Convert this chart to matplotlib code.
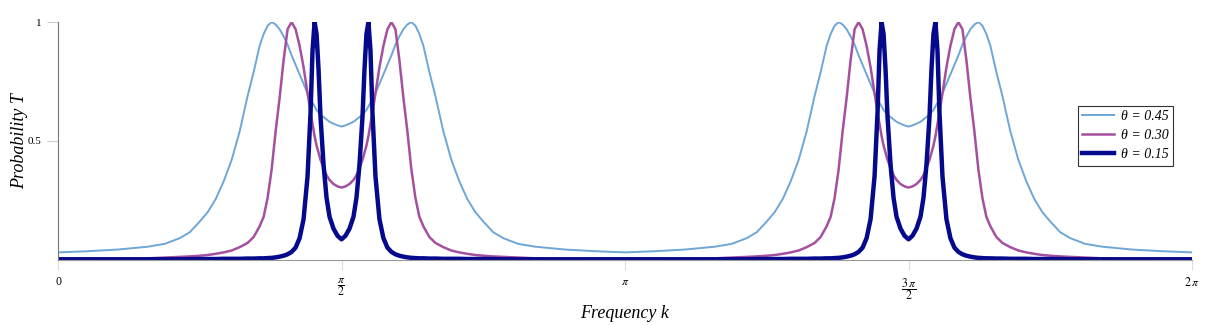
#!/usr/bin/env python
# -*- coding: utf-8 -*-

"""
Transmission probability T over frequency k for three values of theta
"""

import numpy as np
import matplotlib
matplotlib.use('Agg')
import matplotlib.pyplot as plt

# frequency grid, in units of pi
k_over_pi = [
    0.0000, 0.0528, 0.1056, 0.1585, 0.1884, 0.2148, 0.2324, 0.2500, 0.2641, 0.2782,
    0.2923, 0.3063, 0.3204, 0.3345, 0.3451, 0.3556, 0.3627, 0.3697, 0.3768, 0.3838,
    0.3908, 0.3979, 0.4049, 0.4120, 0.4190, 0.4261, 0.4331, 0.4401, 0.4454, 0.4489,
    0.4525, 0.4560, 0.4595, 0.4630, 0.4683, 0.4736, 0.4789, 0.4859, 0.4930, 0.5000,
    0.5070, 0.5141, 0.5211, 0.5264, 0.5317, 0.5370, 0.5405, 0.5440, 0.5475, 0.5511,
    0.5546, 0.5599, 0.5669, 0.5739, 0.5810, 0.5880, 0.5951, 0.6021, 0.6092, 0.6162,
    0.6232, 0.6303, 0.6373, 0.6444, 0.6549, 0.6655, 0.6796, 0.6937, 0.7077, 0.7218,
    0.7359, 0.7500, 0.7676, 0.7852, 0.8116, 0.8415, 0.8944, 0.9472, 1.0000,
    1.0528, 1.1056, 1.1585, 1.1884, 1.2148, 1.2324, 1.2500, 1.2641, 1.2782,
    1.2923, 1.3063, 1.3204, 1.3345, 1.3451, 1.3556, 1.3627, 1.3697, 1.3768, 1.3838,
    1.3908, 1.3979, 1.4049, 1.4120, 1.4190, 1.4261, 1.4331, 1.4401, 1.4454, 1.4489,
    1.4525, 1.4560, 1.4595, 1.4630, 1.4683, 1.4736, 1.4789, 1.4859, 1.4930, 1.5000,
    1.5070, 1.5141, 1.5211, 1.5264, 1.5317, 1.5370, 1.5405, 1.5440, 1.5475, 1.5511,
    1.5546, 1.5599, 1.5669, 1.5739, 1.5810, 1.5880, 1.5951, 1.6021, 1.6092, 1.6162,
    1.6232, 1.6303, 1.6373, 1.6444, 1.6549, 1.6655, 1.6796, 1.6937, 1.7077, 1.7218,
    1.7359, 1.7500, 1.7676, 1.7852, 1.8116, 1.8415, 1.8944, 1.9472, 2.0000,
]

T_045 = [
    0.030, 0.035, 0.042, 0.054, 0.066, 0.090, 0.115, 0.160, 0.200, 0.255,
    0.330, 0.420, 0.540, 0.690, 0.790, 0.900, 0.950, 0.985, 1.000, 0.990,
    0.970, 0.940, 0.905, 0.860, 0.820, 0.780, 0.740, 0.700, 0.675, 0.660,
    0.645, 0.630, 0.620, 0.610, 0.600, 0.590, 0.580, 0.572, 0.565, 0.560,
    0.565, 0.572, 0.580, 0.590, 0.600, 0.610, 0.620, 0.630, 0.645, 0.660,
    0.675, 0.700, 0.740, 0.780, 0.820, 0.860, 0.905, 0.940, 0.970, 0.990,
    1.000, 0.985, 0.950, 0.900, 0.790, 0.690, 0.540, 0.420, 0.330, 0.255,
    0.200, 0.160, 0.115, 0.090, 0.066, 0.054, 0.042, 0.035, 0.030,
    0.035, 0.042, 0.054, 0.066, 0.090, 0.115, 0.160, 0.200, 0.255,
    0.330, 0.420, 0.540, 0.690, 0.790, 0.900, 0.950, 0.985, 1.000, 0.990,
    0.970, 0.940, 0.905, 0.860, 0.820, 0.780, 0.740, 0.700, 0.675, 0.660,
    0.645, 0.630, 0.620, 0.610, 0.600, 0.590, 0.580, 0.572, 0.565, 0.560,
    0.565, 0.572, 0.580, 0.590, 0.600, 0.610, 0.620, 0.630, 0.645, 0.660,
    0.675, 0.700, 0.740, 0.780, 0.820, 0.860, 0.905, 0.940, 0.970, 0.990,
    1.000, 0.985, 0.950, 0.900, 0.790, 0.690, 0.540, 0.420, 0.330, 0.255,
    0.200, 0.160, 0.115, 0.090, 0.066, 0.054, 0.042, 0.035, 0.030,
]

T_030 = [
    0.002, 0.002, 0.003, 0.005, 0.008, 0.011, 0.013, 0.016, 0.019, 0.024,
    0.030, 0.038, 0.052, 0.070, 0.095, 0.140, 0.180, 0.260, 0.380, 0.540,
    0.680, 0.840, 0.970, 1.000, 0.970, 0.900, 0.810, 0.700, 0.620, 0.570,
    0.520, 0.480, 0.450, 0.420, 0.385, 0.355, 0.335, 0.318, 0.308, 0.303,
    0.308, 0.318, 0.335, 0.355, 0.385, 0.420, 0.450, 0.480, 0.520, 0.570,
    0.620, 0.700, 0.810, 0.900, 0.970, 1.000, 0.970, 0.840, 0.680, 0.540,
    0.380, 0.260, 0.180, 0.140, 0.095, 0.070, 0.052, 0.038, 0.030, 0.024,
    0.019, 0.016, 0.013, 0.011, 0.008, 0.005, 0.003, 0.002, 0.002,
    0.002, 0.003, 0.005, 0.008, 0.011, 0.013, 0.016, 0.019, 0.024,
    0.030, 0.038, 0.052, 0.070, 0.095, 0.140, 0.180, 0.260, 0.380, 0.540,
    0.680, 0.840, 0.970, 1.000, 0.970, 0.900, 0.810, 0.700, 0.620, 0.570,
    0.520, 0.480, 0.450, 0.420, 0.385, 0.355, 0.335, 0.318, 0.308, 0.303,
    0.308, 0.318, 0.335, 0.355, 0.385, 0.420, 0.450, 0.480, 0.520, 0.570,
    0.620, 0.700, 0.810, 0.900, 0.970, 1.000, 0.970, 0.840, 0.680, 0.540,
    0.380, 0.260, 0.180, 0.140, 0.095, 0.070, 0.052, 0.038, 0.030, 0.024,
    0.019, 0.016, 0.013, 0.011, 0.008, 0.005, 0.003, 0.002, 0.002,
]

T_015 = [
    0.001, 0.001, 0.001, 0.001, 0.001, 0.001, 0.002, 0.002, 0.002, 0.002,
    0.003, 0.003, 0.003, 0.004, 0.004, 0.005, 0.005, 0.006, 0.007, 0.009,
    0.012, 0.016, 0.022, 0.032, 0.050, 0.090, 0.170, 0.350, 0.620, 0.880,
    1.000, 0.950, 0.800, 0.600, 0.400, 0.260, 0.180, 0.130, 0.100, 0.085,
    0.100, 0.130, 0.180, 0.260, 0.400, 0.600, 0.800, 0.950, 1.000, 0.880,
    0.620, 0.350, 0.170, 0.090, 0.050, 0.032, 0.022, 0.016, 0.012, 0.009,
    0.007, 0.006, 0.005, 0.005, 0.004, 0.004, 0.003, 0.003, 0.003, 0.002,
    0.002, 0.002, 0.002, 0.001, 0.001, 0.001, 0.001, 0.001, 0.001,
    0.001, 0.001, 0.001, 0.001, 0.001, 0.002, 0.002, 0.002, 0.002,
    0.003, 0.003, 0.003, 0.004, 0.004, 0.005, 0.005, 0.006, 0.007, 0.009,
    0.012, 0.016, 0.022, 0.032, 0.050, 0.090, 0.170, 0.350, 0.620, 0.880,
    1.000, 0.950, 0.800, 0.600, 0.400, 0.260, 0.180, 0.130, 0.100, 0.085,
    0.100, 0.130, 0.180, 0.260, 0.400, 0.600, 0.800, 0.950, 1.000, 0.880,
    0.620, 0.350, 0.170, 0.090, 0.050, 0.032, 0.022, 0.016, 0.012, 0.009,
    0.007, 0.006, 0.005, 0.005, 0.004, 0.004, 0.003, 0.003, 0.003, 0.002,
    0.002, 0.002, 0.002, 0.001, 0.001, 0.001, 0.001, 0.001, 0.001,
]

series_labels = [u'\u03b8 = 0.45', u'\u03b8 = 0.30', u'\u03b8 = 0.15']

x_ticks_over_pi = [0, 0.5, 1, 1.5, 2]
x_tick_labels = ['0', r'$\dfrac{\pi}{2}$', r'$\pi$', r'$\dfrac{3\,\pi}{2}$', r'$2\,\pi$']
y_ticks = [0.5, 1]
y_tick_labels = ['0.5', '1']

plt.rcParams['font.family'] = ['Liberation Serif', 'DejaVu Serif']
plt.rcParams['mathtext.fontset'] = 'stix'

fig = plt.figure(figsize=(12.06, 3.25), dpi=100)
ax = fig.add_axes([0.0481, 0.2015, 0.9403, 0.7305])

k = np.array(k_over_pi) * np.pi
ax.plot(k, T_045, color='#6ea6d6', lw=1.4, label=series_labels[0])
ax.plot(k, T_030, color='#a5509f', lw=1.8, label=series_labels[1])
ax.plot(k, T_015, color='#050a8c', lw=3.2, label=series_labels[2])

ax.set_xlim(0, 2 * np.pi)
ax.set_ylim(0, 1)

ax.set_xticks(np.array(x_ticks_over_pi) * np.pi)
ax.set_xticklabels(x_tick_labels, fontsize=8.5, va='top')
ax.set_yticks(y_ticks)
ax.set_yticklabels(y_tick_labels, fontsize=8)
ax.tick_params(axis='x', length=7, width=0.8, color='#dddddd', pad=5)
ax.tick_params(axis='y', length=8, width=0.8, color='#cccccc', pad=4)

for side in ['top', 'right']:
    ax.spines[side].set_visible(False)
ax.spines['left'].set_color('#777777')
ax.spines['bottom'].set_color('#999999')

ax.set_xlabel('Frequency k', fontsize=13, style='italic')
ax.xaxis.set_label_coords(0.5, -0.19)
ax.set_ylabel('Probability T', fontsize=13, style='italic')
ax.yaxis.set_label_coords(-0.026, 0.5)

leg = ax.legend(loc='upper right', bbox_to_anchor=(0.983, 0.648), borderaxespad=0,
                fancybox=False, edgecolor='#333333', framealpha=1,
                prop={'style': 'italic', 'size': 10}, handlelength=2.3,
                labelspacing=0.45, borderpad=0.3, handletextpad=0.5)
leg.get_frame().set_linewidth(0.8)

fig.savefig('out.png', dpi=100)
